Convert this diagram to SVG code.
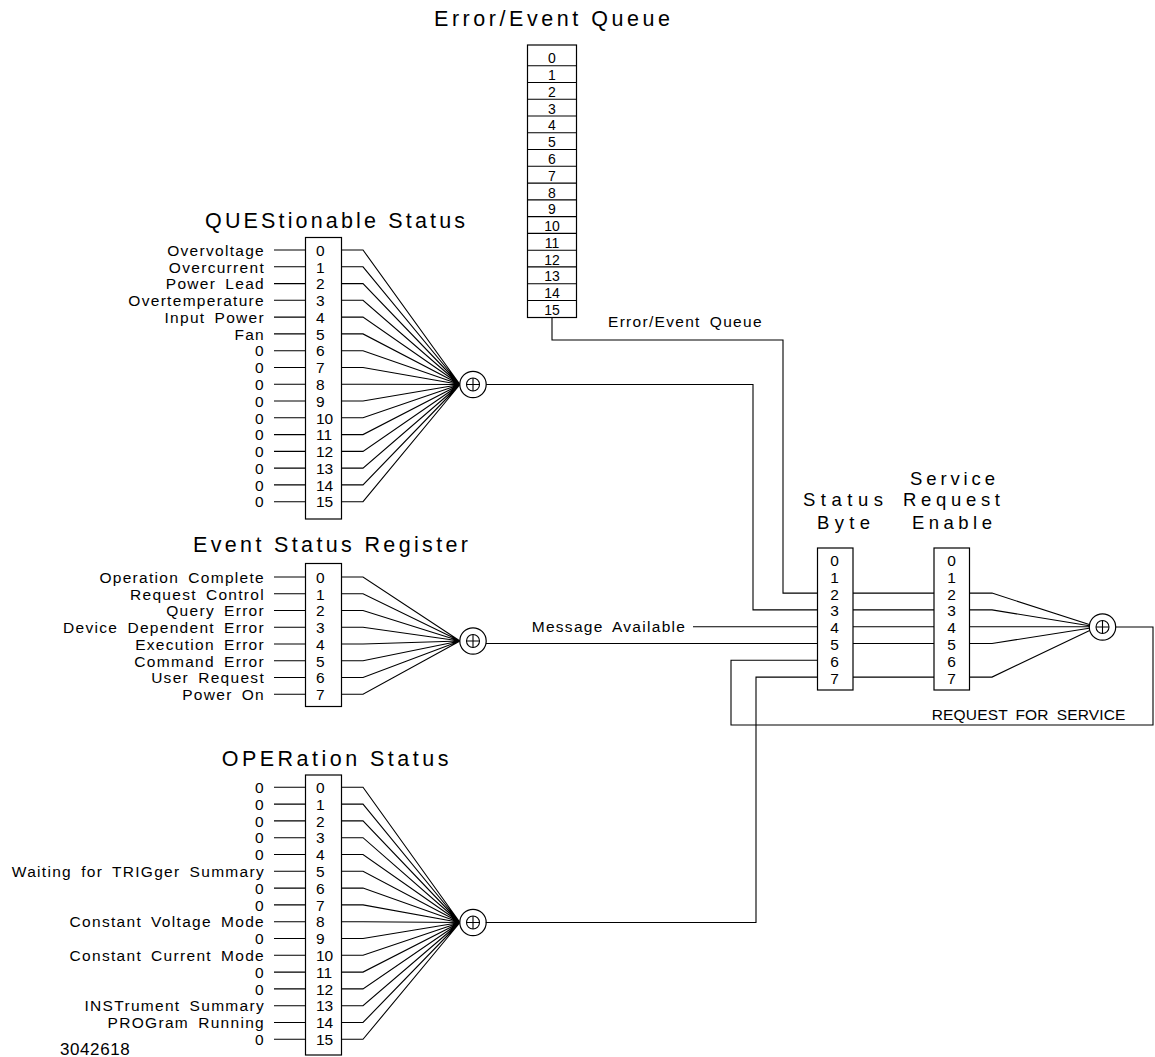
<svg xmlns="http://www.w3.org/2000/svg" width="1155" height="1057" viewBox="0 0 1155 1057">
<defs>
<style>
.ln{stroke:#000;stroke-width:1.1;fill:none}
.bx{stroke:#000;stroke-width:1.2;fill:#fff}
text{font-family:"Liberation Sans",Arial,sans-serif;fill:#000}
.lbl{font-size:15.5px;letter-spacing:1.3px;word-spacing:3.5px}
.dg{font-size:15.5px}
.qd{font-size:14px;text-anchor:middle}
.end{text-anchor:end}
.mid{text-anchor:middle}
.ttl{font-size:21.5px}
.ttl2{font-size:18.5px}
</style>
<g id="sum">
<circle r="13.2" cx="0" cy="0" class="bx"/>
<circle r="6.5" cx="0" cy="0" class="ln"/>
<path d="M-6.5 0H6.5M0 -6.5V6.5" class="ln"/>
</g>
</defs>
<rect width="1155" height="1057" fill="#fff"/>

<!-- Error/Event Queue -->
<g id="error-queue">
<text x="434" y="26" class="ttl" textLength="236" lengthAdjust="spacing">Error/Event Queue</text>
<rect x="527.5" y="45" width="49" height="272.5" class="bx"/>
<path class="ln" d="M527.5 65.7H576.5M527.5 82.5H576.5M527.5 99.2H576.5M527.5 116H576.5M527.5 132.8H576.5M527.5 149.5H576.5M527.5 166.3H576.5M527.5 183.1H576.5M527.5 199.9H576.5M527.5 216.6H576.5M527.5 233.4H576.5M527.5 250.2H576.5M527.5 266.9H576.5M527.5 283.7H576.5M527.5 300.5H576.5"/>
<text class="qd" x="552" y="63.3">0</text>
<text class="qd" x="552" y="80.1">1</text>
<text class="qd" x="552" y="96.9">2</text>
<text class="qd" x="552" y="113.6">3</text>
<text class="qd" x="552" y="130.4">4</text>
<text class="qd" x="552" y="147.2">5</text>
<text class="qd" x="552" y="163.9">6</text>
<text class="qd" x="552" y="180.7">7</text>
<text class="qd" x="552" y="197.5">8</text>
<text class="qd" x="552" y="214.2">9</text>
<text class="qd" x="552" y="231">10</text>
<text class="qd" x="552" y="247.8">11</text>
<text class="qd" x="552" y="264.5">12</text>
<text class="qd" x="552" y="281.3">13</text>
<text class="qd" x="552" y="298.1">14</text>
<text class="qd" x="552" y="314.9">15</text>
</g>

<!-- QUEStionable Status -->
<g id="questionable-status">
<text x="205" y="228" class="ttl" textLength="260" lengthAdjust="spacing">QUEStionable Status</text>
<rect x="305.5" y="237.5" width="36" height="281.5" class="bx"/>
<g class="lbl end">
<text x="265" y="255.7">Overvoltage</text>
<text x="265" y="272.5">Overcurrent</text>
<text x="265" y="289.3">Power Lead</text>
<text x="265" y="306">Overtemperature</text>
<text x="265" y="322.8">Input Power</text>
<text x="265" y="339.6">Fan</text>
<text x="265" y="356.4">0</text>
<text x="265" y="373.2">0</text>
<text x="265" y="389.9">0</text>
<text x="265" y="406.7">0</text>
<text x="265" y="423.5">0</text>
<text x="265" y="440.3">0</text>
<text x="265" y="457.1">0</text>
<text x="265" y="473.8">0</text>
<text x="265" y="490.6">0</text>
<text x="265" y="507.4">0</text>
</g>
<g class="dg">
<text x="316" y="255.7">0</text>
<text x="316" y="272.5">1</text>
<text x="316" y="289.3">2</text>
<text x="316" y="306">3</text>
<text x="316" y="322.8">4</text>
<text x="316" y="339.6">5</text>
<text x="316" y="356.4">6</text>
<text x="316" y="373.2">7</text>
<text x="316" y="389.9">8</text>
<text x="316" y="406.7">9</text>
<text x="316" y="423.5">10</text>
<text x="316" y="440.3">11</text>
<text x="316" y="457.1">12</text>
<text x="316" y="473.8">13</text>
<text x="316" y="490.6">14</text>
<text x="316" y="507.4">15</text>
</g>
<path class="ln" d="M274 250H305.5M274 266.8H305.5M274 283.6H305.5M274 300.3H305.5M274 317.1H305.5M274 333.9H305.5M274 350.7H305.5M274 367.5H305.5M274 384.2H305.5M274 401H305.5M274 417.8H305.5M274 434.6H305.5M274 451.4H305.5M274 468.1H305.5M274 484.9H305.5M274 501.7H305.5"/>
<path class="ln" d="M341.5 250H363L460 384.5M341.5 266.8H363L460 384.5M341.5 283.6H363L460 384.5M341.5 300.3H363L460 384.5M341.5 317.1H363L460 384.5M341.5 333.9H363L460 384.5M341.5 350.7H363L460 384.5M341.5 367.5H363L460 384.5M341.5 384.2H363L460 384.5M341.5 401H363L460 384.5M341.5 417.8H363L460 384.5M341.5 434.6H363L460 384.5M341.5 451.4H363L460 384.5M341.5 468.1H363L460 384.5M341.5 484.9H363L460 384.5M341.5 501.7H363L460 384.5"/>
</g>
<g id="ques-sum"><use href="#sum" x="473" y="384.5"/></g>

<!-- Event Status Register -->
<g id="event-status-register">
<text x="193" y="551.7" class="ttl" textLength="275" lengthAdjust="spacing">Event Status Register</text>
<rect x="305.5" y="563.5" width="36" height="143" class="bx"/>
<g class="lbl end">
<text x="265" y="582.7">Operation Complete</text>
<text x="265" y="599.5">Request Control</text>
<text x="265" y="616.2">Query Error</text>
<text x="265" y="633">Device Dependent Error</text>
<text x="265" y="649.7">Execution Error</text>
<text x="265" y="666.5">Command Error</text>
<text x="265" y="683.2">User Request</text>
<text x="265" y="700">Power On</text>
</g>
<g class="dg">
<text x="316" y="582.7">0</text>
<text x="316" y="599.5">1</text>
<text x="316" y="616.2">2</text>
<text x="316" y="633">3</text>
<text x="316" y="649.7">4</text>
<text x="316" y="666.5">5</text>
<text x="316" y="683.2">6</text>
<text x="316" y="700">7</text>
</g>
<path class="ln" d="M274 577H305.5M274 593.8H305.5M274 610.5H305.5M274 627.3H305.5M274 644H305.5M274 660.8H305.5M274 677.5H305.5M274 694.3H305.5"/>
<path class="ln" d="M341.5 577H363L460 641M341.5 593.8H363L460 641M341.5 610.5H363L460 641M341.5 627.3H363L460 641M341.5 644H363L460 641M341.5 660.8H363L460 641M341.5 677.5H363L460 641M341.5 694.3H363L460 641"/>
</g>
<g id="esr-sum"><use href="#sum" x="473" y="641"/></g>

<!-- OPERation Status -->
<g id="operation-status">
<text x="221.7" y="766" class="ttl" textLength="226.7" lengthAdjust="spacing">OPERation Status</text>
<rect x="305.5" y="775" width="36" height="280" class="bx"/>
<g class="lbl end">
<text x="265" y="793">0</text>
<text x="265" y="809.8">0</text>
<text x="265" y="826.6">0</text>
<text x="265" y="843.4">0</text>
<text x="265" y="860.2">0</text>
<text x="265" y="877">Waiting for TRIGger Summary</text>
<text x="265" y="893.8">0</text>
<text x="265" y="910.6">0</text>
<text x="265" y="927.4">Constant Voltage Mode</text>
<text x="265" y="944.2">0</text>
<text x="265" y="961">Constant Current Mode</text>
<text x="265" y="977.8">0</text>
<text x="265" y="994.6">0</text>
<text x="265" y="1011.4">INSTrument Summary</text>
<text x="265" y="1028.2">PROGram Running</text>
<text x="265" y="1045">0</text>
</g>
<g class="dg">
<text x="316" y="793">0</text>
<text x="316" y="809.8">1</text>
<text x="316" y="826.6">2</text>
<text x="316" y="843.4">3</text>
<text x="316" y="860.2">4</text>
<text x="316" y="877">5</text>
<text x="316" y="893.8">6</text>
<text x="316" y="910.6">7</text>
<text x="316" y="927.4">8</text>
<text x="316" y="944.2">9</text>
<text x="316" y="961">10</text>
<text x="316" y="977.8">11</text>
<text x="316" y="994.6">12</text>
<text x="316" y="1011.4">13</text>
<text x="316" y="1028.2">14</text>
<text x="316" y="1045">15</text>
</g>
<path class="ln" d="M274 787.3H305.5M274 804.1H305.5M274 820.9H305.5M274 837.7H305.5M274 854.5H305.5M274 871.3H305.5M274 888.1H305.5M274 904.9H305.5M274 921.7H305.5M274 938.5H305.5M274 955.3H305.5M274 972.1H305.5M274 988.9H305.5M274 1005.7H305.5M274 1022.5H305.5M274 1039.3H305.5"/>
<path class="ln" d="M341.5 787.3H363L460 922.5M341.5 804.1H363L460 922.5M341.5 820.9H363L460 922.5M341.5 837.7H363L460 922.5M341.5 854.5H363L460 922.5M341.5 871.3H363L460 922.5M341.5 888.1H363L460 922.5M341.5 904.9H363L460 922.5M341.5 921.7H363L460 922.5M341.5 938.5H363L460 922.5M341.5 955.3H363L460 922.5M341.5 972.1H363L460 922.5M341.5 988.9H363L460 922.5M341.5 1005.7H363L460 922.5M341.5 1022.5H363L460 922.5M341.5 1039.3H363L460 922.5"/>
</g>
<g id="oper-sum"><use href="#sum" x="473" y="922.5"/></g>

<!-- Status Byte -->
<g id="status-byte">
<text x="803" y="505.5" class="ttl2" textLength="80" lengthAdjust="spacing">Status</text>
<text x="817" y="528.5" class="ttl2" textLength="53" lengthAdjust="spacing">Byte</text>
<rect x="817.5" y="548" width="35.5" height="142" class="bx"/>
<g class="dg mid">
<text x="834.5" y="566">0</text>
<text x="834.5" y="582.8">1</text>
<text x="834.5" y="599.6">2</text>
<text x="834.5" y="616.4">3</text>
<text x="834.5" y="633.2">4</text>
<text x="834.5" y="650">5</text>
<text x="834.5" y="666.8">6</text>
<text x="834.5" y="683.6">7</text>
</g>
</g>

<!-- Service Request Enable -->
<g id="service-request-enable">
<text x="910" y="485" class="ttl2" textLength="85" lengthAdjust="spacing">Service</text>
<text x="903" y="505.5" class="ttl2" textLength="97" lengthAdjust="spacing">Request</text>
<text x="912" y="528.5" class="ttl2" textLength="80" lengthAdjust="spacing">Enable</text>
<rect x="934" y="548" width="35.5" height="142" class="bx"/>
<g class="dg mid">
<text x="951.5" y="566">0</text>
<text x="951.5" y="582.8">1</text>
<text x="951.5" y="599.6">2</text>
<text x="951.5" y="616.4">3</text>
<text x="951.5" y="633.2">4</text>
<text x="951.5" y="650">5</text>
<text x="951.5" y="666.8">6</text>
<text x="951.5" y="683.6">7</text>
</g>
</g>

<!-- Connectors -->
<g id="connectors">
<path class="ln" d="M552 317.5V340H783V593.1H817.5"/>
<path class="ln" d="M486.2 384.5H753V609.9H817.5"/>
<path class="ln" d="M693 626.7H817.5"/>
<path class="ln" d="M485.9 643.5H817.5"/>
<path class="ln" d="M485.7 922.5H756V677.1H817.5"/>
<path class="ln" d="M853 593.1H934M853 609.9H934M853 626.7H934M853 643.5H934M853 677.1H934"/>
<path class="ln" d="M969.5 593.1H992L1097 627M969.5 609.9H992L1097 627M969.5 626.7H1097M969.5 643.5H992L1097 627M969.5 677.1H992L1097 627"/>
<path class="ln" d="M1115.7 627H1153V725H731V660.3H817.5"/>
<text class="lbl" x="608" y="327">Error/Event Queue</text>
<text class="lbl" x="531.7" y="631.7">Message Available</text>
<text class="lbl" x="931.7" y="720" textLength="195" lengthAdjust="spacing">REQUEST FOR SERVICE</text>
</g>
<g id="sre-sum"><use href="#sum" x="1102.5" y="627"/></g>

<text class="lbl" x="60" y="1055" style="font-size:17px" textLength="71" lengthAdjust="spacing">3042618</text>
</svg>
